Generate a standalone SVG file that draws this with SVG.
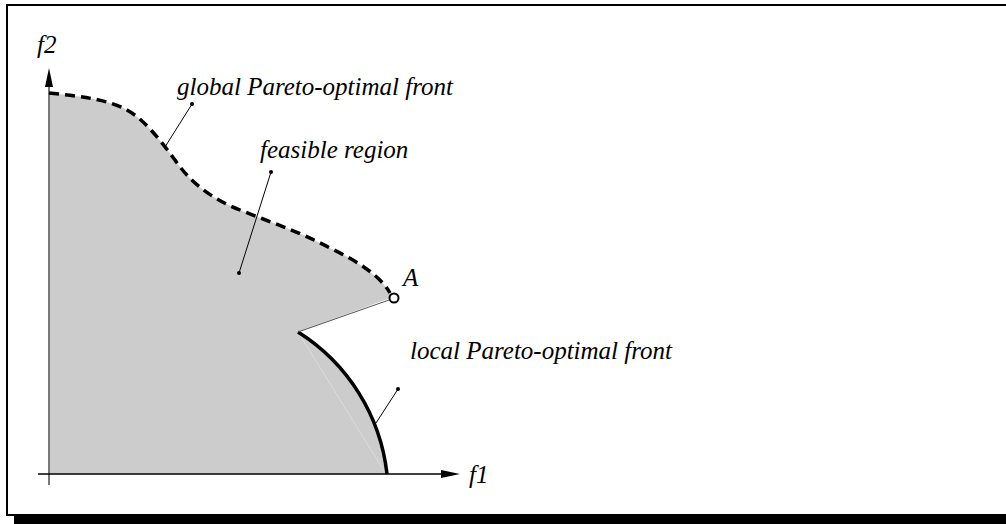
<svg xmlns="http://www.w3.org/2000/svg" width="1006" height="524" viewBox="0 0 1006 524">
<style>
.lbl{font-family:"Liberation Serif","Times New Roman",serif;font-style:italic;font-size:25px;fill:#000}
.lead{stroke:#000;stroke-width:1;fill:none}
</style>
<rect x="0" y="0" width="1006" height="524" fill="#fff"/>
<rect x="7" y="5" width="1010" height="510" fill="none" stroke="#000" stroke-width="2"/>
<rect x="14" y="515" width="992" height="9" fill="#000"/>
<g id="feasible-region">
<path d="M49,93 C80,96 110,100 127,110 C145,120 160,140 175,160 C190,182 210,198 240,210 C270,222 300,232 330,248 C355,260 380,275 393,297 L298,332 A193,193 0 0 1 387,474 L49,474 Z" fill="#cccccc"/>
<path d="M298,332 L386,474" stroke="#dcdcdc" stroke-width="1" fill="none"/>
</g>
<g id="axes">
<line x1="49" y1="86" x2="49" y2="485" stroke="#777" stroke-width="2"/>
<polygon points="49,68 53,87 45,87" fill="#000"/>
<line x1="38" y1="474" x2="444" y2="474" stroke="#000" stroke-width="1.5"/>
<polygon points="460,474 441,470 441,478" fill="#000"/>
<text class="lbl" x="37" y="53">f2</text>
<text class="lbl" x="469" y="483">f1</text>
</g>
<g id="global-front">
<path d="M49,93 C80,96 110,100 127,110 C145,120 160,140 175,160 C190,182 210,198 240,210 C270,222 300,232 330,248 C355,260 380,275 390,293" fill="none" stroke="#000" stroke-width="3.5" stroke-dasharray="10,6"/>
</g>
<g id="local-front">
<path d="M298,332 A193,193 0 0 1 387,474" fill="none" stroke="#000" stroke-width="3.5"/>
</g>
<g id="point-A">
<line x1="298" y1="332" x2="389" y2="300" stroke="#555" stroke-width="1"/>
<circle cx="394" cy="298" r="4.5" fill="#fff" stroke="#000" stroke-width="2"/>
<text class="lbl" x="403" y="286">A</text>
</g>
<g id="connectors">
<line class="lead" x1="192" y1="104" x2="165" y2="147"/>
<circle cx="192" cy="104" r="2" fill="#000"/>
<line class="lead" x1="271" y1="172" x2="239" y2="273"/>
<circle cx="271" cy="172" r="2" fill="#000"/>
<circle cx="239" cy="273" r="2" fill="#000"/>
<line class="lead" x1="398" y1="389" x2="376" y2="423"/>
<circle cx="398" cy="389" r="2" fill="#000"/>
</g>
<g id="labels">
<text class="lbl" x="177" y="95">global Pareto-optimal front</text>
<text class="lbl" x="260" y="158">feasible region</text>
<text class="lbl" x="410" y="359">local Pareto-optimal front</text>
</g>
</svg>
